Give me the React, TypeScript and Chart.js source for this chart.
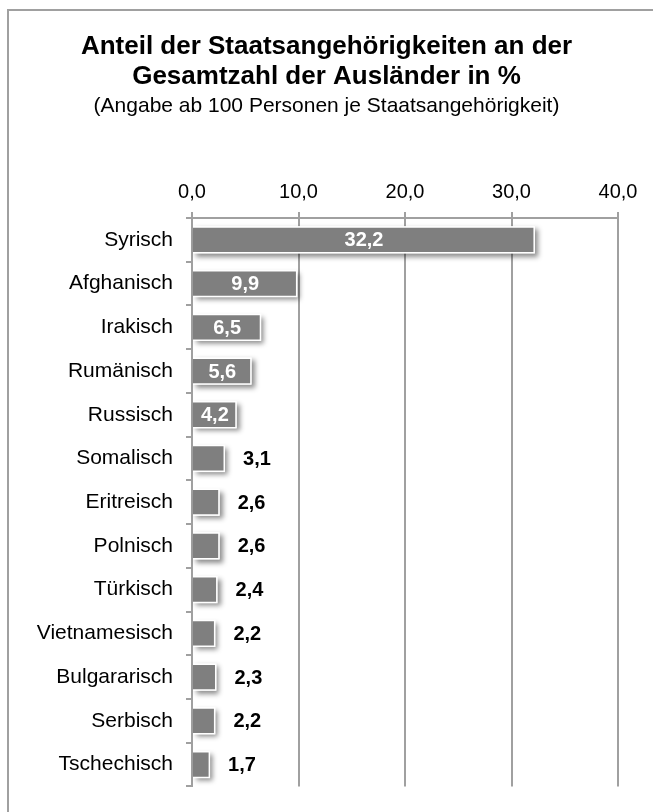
import React, { useEffect, useRef } from "react";
import { Chart, registerables } from "chart.js";

Chart.register(...registerables);

const categories = [
  "Syrisch",
  "Afghanisch",
  "Irakisch",
  "Rumänisch",
  "Russisch",
  "Somalisch",
  "Eritreisch",
  "Polnisch",
  "Türkisch",
  "Vietnamesisch",
  "Bulgararisch",
  "Serbisch",
  "Tschechisch",
];
const shares = [32.2, 9.9, 6.5, 5.6, 4.2, 3.1, 2.6, 2.6, 2.4, 2.2, 2.3, 2.2, 1.7];
const titleLines = ["Anteil der Staatsangehörigkeiten an der", "Gesamtzahl der Ausländer in %"];
const subtitleText = "(Angabe ab 100 Personen je Staatsangehörigkeit)";
const axisMin = 0;
const axisMax = 40;
const axisStep = 10;
const insideThreshold = 4;

const FONT = "'Liberation Sans', Arial, Helvetica, sans-serif";
const fmt = (v: number) => v.toFixed(1).replace(".", ",");

const shadowPlugin = {
  id: "barShadow",
  beforeDatasetsDraw(chart: any) {
    const ctx = chart.ctx;
    const meta = chart.getDatasetMeta(0);
    ctx.save();
    ctx.shadowColor = "rgba(0,0,0,0.45)";
    ctx.shadowBlur = 5;
    ctx.shadowOffsetX = 3;
    ctx.shadowOffsetY = 3;
    ctx.fillStyle = "#ffffff";
    meta.data.forEach((el: any) => {
      const p = el.getProps(["x", "y", "base", "height"], true);
      ctx.fillRect(p.base, p.y - p.height / 2, p.x - p.base, p.height);
    });
    ctx.restore();
  },
};

const labelPlugin = {
  id: "valueLabels",
  afterDatasetsDraw(chart: any) {
    const ctx = chart.ctx;
    const meta = chart.getDatasetMeta(0);
    const data = chart.data.datasets[0].data as number[];
    ctx.save();
    ctx.font = `bold 20px ${FONT}`;
    ctx.textBaseline = "middle";
    meta.data.forEach((el: any, i: number) => {
      const p = el.getProps(["x", "y", "base"], true);
      const v = data[i];
      if (v >= insideThreshold) {
        ctx.fillStyle = "#ffffff";
        ctx.textAlign = "center";
        ctx.fillText(fmt(v), (p.x + p.base) / 2, p.y + 1);
      } else {
        ctx.fillStyle = "#000000";
        ctx.textAlign = "left";
        ctx.fillText(fmt(v), p.x + 18, p.y + 1);
      }
    });
    ctx.restore();
  },
};

export default function App() {
  const canvasRef = useRef<HTMLCanvasElement | null>(null);

  useEffect(() => {
    if (!canvasRef.current) return;
    const chart = new Chart(canvasRef.current, {
      type: "bar",
      data: {
        labels: categories,
        datasets: [
          {
            data: shares,
            backgroundColor: "#7f7f7f",
            borderColor: "#ffffff",
            borderWidth: 1.5,
            borderSkipped: "start",
            barPercentage: 0.78,
            categoryPercentage: 0.8,
          },
        ],
      },
      options: {
        indexAxis: "y",
        animation: false,
        responsive: false,
        maintainAspectRatio: false,
        devicePixelRatio: 1,
        layout: { padding: { left: 0, right: 0, top: 0, bottom: 15 } },
        plugins: {
          legend: { display: false },
          tooltip: { enabled: false },
          title: {
            display: true,
            text: titleLines,
            color: "#000000",
            font: { family: FONT, size: 26, weight: "bold", lineHeight: 30 / 26 },
            padding: { top: 32, bottom: 2.45 },
          },
          subtitle: {
            display: true,
            text: subtitleText,
            color: "#000000",
            font: { family: FONT, size: 21, lineHeight: 1.1 },
            padding: { top: 0, bottom: 0 },
          },
        },
        scales: {
          x: {
            position: "top",
            min: axisMin,
            max: axisMax,
            ticks: {
              stepSize: axisStep,
              color: "#000000",
              font: { family: FONT, size: 20 },
              padding: 8,
              callback: (v: any) => fmt(Number(v)),
            },
            grid: {
              color: "#a0a0a0",
              lineWidth: 2,
              tickLength: 6,
              drawTicks: true,
            },
            border: { display: true, color: "#a0a0a0", width: 2 },
            afterFit: (scale: any) => {
              scale.height = 100.45;
            },
          },
          y: {
            ticks: {
              color: "#000000",
              font: { family: FONT, size: 21 },
              padding: 13,
            },
            grid: {
              display: true,
              drawOnChartArea: false,
              drawTicks: true,
              tickLength: 6,
              color: "#a0a0a0",
              lineWidth: 2,
              offset: true,
            },
            border: { display: true, color: "#a0a0a0", width: 2 },
            afterFit: (scale: any) => {
              scale.width = 192;
            },
          },
          rightSpacer: {
            type: "linear",
            position: "right",
            display: true,
            grid: { display: false, drawTicks: false },
            border: { display: false },
            ticks: { display: false },
            afterFit: (scale: any) => {
              scale.width = 35;
            },
          },
        },
      },
      plugins: [shadowPlugin, labelPlugin],
    });
    return () => chart.destroy();
  }, []);

  return (
    <div
      style={{
        position: "fixed",
        left: 0,
        top: 0,
        width: 653,
        height: 812,
        overflow: "hidden",
        background: "#ffffff",
      }}
    >
      <div
        style={{
          position: "absolute",
          left: 7,
          top: 9,
          width: 700,
          height: 900,
          borderTop: "2px solid #a0a0a0",
          borderLeft: "2px solid #a0a0a0",
          boxSizing: "border-box",
        }}
      />
      <canvas
        ref={canvasRef}
        width={653}
        height={812}
        style={{ position: "absolute", left: 0, top: 0, width: 653, height: 812 }}
      />
    </div>
  );
}
